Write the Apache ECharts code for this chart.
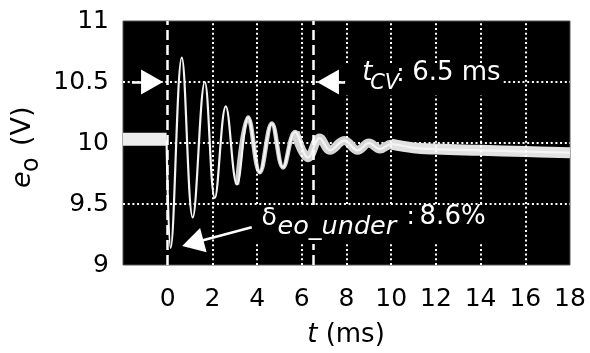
<!DOCTYPE html>
<html>
<head>
<meta charset="utf-8">
<script src="https://cdn.jsdelivr.net/npm/echarts@6/dist/echarts.min.js"></script>
<style>
  html, body { margin: 0; padding: 0; background: #fff; }
  #chart { width: 590px; height: 353px; }
</style>
</head>
<body>
<div id="chart"></div>
<script>
// Tick labels
const xTicks = [0, 2, 4, 6, 8, 10, 12, 14, 16, 18];
const yTicks = [9, 9.5, 10, 10.5, 11];
const xGridLines = [2, 4, 6, 8, 10, 12, 14, 16];

// Output voltage before the load step (ms, V)
const stepTime = [-2.0, -0.05];
const stepVolt = [10.03, 10.03];

// Output voltage after the load step: ringing extrema, then settling (ms, V)
const traceTime = [-0.05, 0.13, 0.63, 1.12, 1.66, 2.11, 2.6, 3.1, 3.6, 4.12, 4.66, 5.16, 5.7, 6.28, 6.8, 7.26, 7.9, 8.5, 9.0, 9.5, 10.0, 11, 12, 14, 16, 18];
const traceVolt = [10.02, 9.14, 10.70, 9.39, 10.50, 9.55, 10.30, 9.66, 10.21, 9.76, 10.16, 9.80, 10.09, 9.88, 10.04, 9.94, 10.02, 9.94, 10.00, 9.95, 9.99, 9.96, 9.95, 9.94, 9.93, 9.92];

// Settling time and undershoot
const settleTime = 6.5;     // ms
const undershootPct = 8.6;  // %

const FONT = 'DejaVu Sans';
const chart = echarts.init(document.getElementById('chart'), null, { renderer: 'canvas' });

const pairs = (xs, ys) => xs.map((x, i) => [x, ys[i]]);
const trace = pairs(traceTime, traceVolt);
const noisyLight = trace.slice(traceTime.indexOf(3.1));
const noisyHeavy = trace.slice(traceTime.indexOf(5.7));
const noisyTail = trace.slice(traceTime.indexOf(10.0));

const dotted = { color: '#fff', width: 2, type: [2, 2.7] };
const arrowHead = { symbol: 'triangle', symbolSize: [25, 22] };

chart.setOption({
  animation: false,
  grid: {
    left: 123, right: 20, top: 21, bottom: 88,
    show: true, backgroundColor: '#000', borderColor: '#555', borderWidth: 1
  },
  xAxis: {
    type: 'value', min: -2, max: 18, interval: 2,
    axisLine: { show: false }, axisTick: { show: false },
    splitLine: { show: false },
    axisLabel: {
      fontFamily: FONT, fontSize: 25, color: '#000', margin: 22,
      formatter: v => (xTicks.includes(v) ? String(v) : '')
    }
  },
  yAxis: {
    type: 'value', min: 9, max: 11, interval: 0.5,
    axisLine: { show: false }, axisTick: { show: false },
    splitLine: { show: true, showMinLine: false, showMaxLine: false, lineStyle: dotted },
    axisLabel: {
      fontFamily: FONT, fontSize: 25, color: '#000', margin: 14,
      formatter: v => (yTicks.includes(v) ? String(v) : '')
    }
  },
  series: [
    {
      // vertical dotted grid
      type: 'line', data: [], z: 1, silent: true,
      markLine: {
        silent: true, symbol: 'none', label: { show: false },
        lineStyle: dotted,
        data: xGridLines.map(x => ({ xAxis: x }))
      }
    },
    {
      type: 'line', data: pairs(stepTime, stepVolt), z: 3,
      showSymbol: false, lineStyle: { color: '#ececec', width: 13, cap: 'butt' }
    },
    {
      type: 'line', data: noisyLight, z: 3, smooth: 0.4,
      showSymbol: false, lineStyle: { color: '#cfcfcf', width: 4.5 }
    },
    {
      type: 'line', data: noisyHeavy, z: 3, smooth: 0.4,
      showSymbol: false, lineStyle: { color: '#d6d6d6', width: 9 }
    },
    {
      type: 'line', data: noisyTail, z: 3, smooth: 0.4,
      showSymbol: false, lineStyle: { color: '#e2e2e2', width: 11 }
    },
    {
      type: 'line', data: trace, z: 4, smooth: 0.4,
      showSymbol: false, lineStyle: { color: '#f4f4f4', width: 2.2 },
      markLine: {
        silent: true, symbol: 'none', label: { show: false },
        lineStyle: { color: '#fff', width: 2.5, type: [10, 5] },
        data: [{ xAxis: 0 }, { xAxis: settleTime }]
      }
    },
    {
      // annotation arrows
      type: 'line', data: [], z: 6, silent: true,
      markLine: {
        silent: true, label: { show: false }, symbolSize: [25, 22],
        lineStyle: { color: '#fff', width: 2.5, type: 'solid' },
        data: [
          [{ coord: [-1.6, 10.5], symbol: 'none' }, Object.assign({ coord: [-0.7, 10.5] }, arrowHead)],
          [{ coord: [8.05, 10.5], symbol: 'none' }, Object.assign({ coord: [7.17, 10.5] }, arrowHead)],
          [{ coord: [3.76, 9.31], symbol: 'none' }, Object.assign({ coord: [1.12, 9.18] }, arrowHead)]
        ]
      }
    }
  ]
});

// Text annotations, anchored in data coordinates
const px = p => chart.convertToPixel({ gridIndex: 0 }, p);
const txt = (x, y, text, size, italic, extra) => ({
  type: 'text', x, y, z: 10,
  style: Object.assign({
    text, fill: '#fff', fontFamily: FONT, fontSize: size,
    fontStyle: italic ? 'italic' : 'normal',
    align: 'left', verticalAlign: 'middle'
  }, extra || {})
});

const [tx, ty] = px([8.7, 10.57]);
const [dx, dy] = px([4.2, 9.385]);

chart.setOption({
  graphic: [
    { type: 'rect', z: 9, shape: { x: tx - 17, y: ty - 10, width: 158, height: 32 }, style: { fill: '#000' } },
    txt(tx, ty, 't', 26, true),
    txt(tx + 8, ty + 10, 'CV', 21, true),
    txt(tx + 34, ty + 1, ':', 25, false),
    txt(tx + 50, ty, settleTime + ' ms', 26, false),

    { type: 'rect', z: 9, shape: { x: dx - 7, y: dy - 13, width: 245, height: 39 }, style: { fill: '#000' } },
    txt(dx, dy, 'δ', 25, false),
    txt(dx + 16, dy + 9, 'eo_under', 25.5, true),
    txt(dx + 145, dy - 1, ':', 25, false),
    txt(dx + 158, dy - 1, undershootPct + '%', 26, false),

    // axis titles
    {
      type: 'group', x: 23, y: 188, rotation: Math.PI / 2,
      children: [
        { type: 'text', x: 0, y: 0, style: { text: 'e', fill: '#000', fontFamily: FONT, fontSize: 27, fontStyle: 'italic', align: 'left', verticalAlign: 'middle' } },
        { type: 'text', x: 16, y: 9, style: { text: 'o', fill: '#000', fontFamily: FONT, fontSize: 24, align: 'left', verticalAlign: 'middle' } },
        { type: 'text', x: 42, y: 0, style: { text: '(V)', fill: '#000', fontFamily: FONT, fontSize: 27, align: 'left', verticalAlign: 'middle' } }
      ]
    },
    {
      type: 'text', x: 346, y: 335,
      style: {
        text: '{i|t} (ms)', fill: '#000', fontFamily: FONT, fontSize: 26,
        align: 'center', verticalAlign: 'middle',
        rich: { i: { fontStyle: 'italic', fontFamily: FONT, fontSize: 26, fill: '#000' } }
      }
    }
  ]
});
</script>
</body>
</html>
